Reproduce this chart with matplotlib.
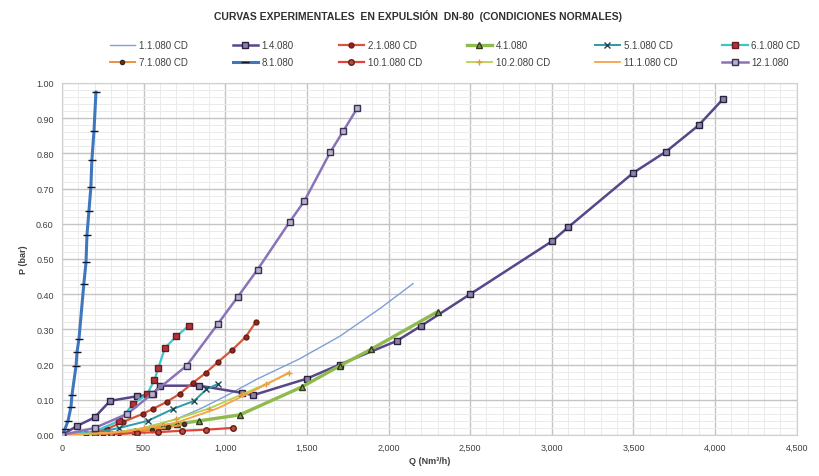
import matplotlib
matplotlib.use("Agg")
import matplotlib.pyplot as plt
from matplotlib.ticker import MultipleLocator, FuncFormatter

plt.rcParams["font.family"] = ["Liberation Sans Narrow", "Liberation Sans", "DejaVu Sans"]

# ── Data ────────────────────────────────────────────────────────────────────
q_111 = [0, 300, 500, 700, 850, 1000, 1200, 1450, 1700, 1950, 2150]
p_111 = [0, 0.005, 0.02, 0.045, 0.075, 0.11, 0.16, 0.215, 0.28, 0.36, 0.43]

q_140 = [0, 90, 200, 295, 460, 555, 600, 840, 1100, 1170, 1500, 1700, 2050,
         2200, 2500, 3000, 3100, 3500, 3700, 3900, 4050]
p_140 = [0, 0.025, 0.05, 0.097, 0.11, 0.115, 0.14, 0.14, 0.12, 0.113, 0.16,
         0.2, 0.267, 0.31, 0.40, 0.55, 0.59, 0.745, 0.805, 0.88, 0.955]

q_211 = [0, 150, 275, 373, 495, 556, 642, 721, 801, 880, 954, 1039, 1124, 1186]
p_211 = [0, 0.005, 0.017, 0.037, 0.06, 0.074, 0.094, 0.117, 0.148, 0.176,
         0.207, 0.24, 0.278, 0.32]

q_411 = [0, 300, 450, 617, 703, 837, 1088, 1467, 1700, 1895, 2300]
p_411 = [0, 0.0, 0.01, 0.026, 0.031, 0.04, 0.057, 0.136, 0.196, 0.244, 0.35]

q_511 = [0, 200, 350, 525, 680, 810, 885, 955]
p_511 = [0, 0.005, 0.02, 0.04, 0.074, 0.097, 0.13, 0.145]

q_611 = [0, 200, 350, 436, 520, 565, 590, 630, 700, 776]
p_611 = [0, 0.01, 0.04, 0.088, 0.115, 0.155, 0.19, 0.247, 0.28, 0.31]

q_711 = [0, 150, 250, 350, 450, 550, 650, 750]
p_711 = [0, 0.0, 0.003, 0.006, 0.01, 0.015, 0.022, 0.03]

q_811 = [0, 18, 37, 55, 61, 86, 92, 104, 134, 147, 153, 165, 177, 183, 196, 208]
p_811 = [0, 0.017, 0.04, 0.08, 0.113, 0.196, 0.235, 0.273, 0.43, 0.49, 0.568,
         0.636, 0.705, 0.78, 0.864, 0.974]

q_1011 = [0, 200, 300, 458, 587, 733, 880, 1045]
p_1011 = [0, 0.0, 0.002, 0.006, 0.008, 0.012, 0.015, 0.02]

q_1021 = [0, 300, 500, 700, 900, 1100, 1250, 1390]
p_1021 = [0, 0.005, 0.02, 0.045, 0.075, 0.115, 0.145, 0.175]

q_1111 = [0, 400, 700, 950, 1150, 1300, 1390]
p_1111 = [0, 0.01, 0.035, 0.075, 0.12, 0.155, 0.178]

q_1211 = [0, 200, 400, 550, 764, 954, 1076, 1198, 1394, 1485, 1644, 1724, 1809]
p_1211 = [0, 0.02, 0.06, 0.116, 0.197, 0.315, 0.392, 0.47, 0.605, 0.665,
          0.804, 0.864, 0.929]

# label, q, p, line colour, lw, marker, marker face, marker edge, size
series = [
    ("1.1.080 CD", q_111, p_111, "#7f9fd6", 1.0, None, None, None, 0),
    ("1.4.080", q_140, p_140, "#58468a", 1.8, "s", "#8c84a8", "#2a2040", 4.0),
    ("2.1.080 CD", q_211, p_211, "#d9553a", 1.6, "o", "#8e2a22", "#6a1a14", 3.5),
    ("4.1.080", q_411, p_411, "#8fba4e", 2.4, "^", "#7c9a50", "#2f3a20", 4.0),
    ("5.1.080 CD", q_511, p_511, "#2f9aa8", 1.4, "x", "#1f4a55", "#1f4a55", 4.0),
    ("6.1.080 CD", q_611, p_611, "#3cc6cc", 1.6, "s", "#b0343a", "#6a1a20", 4.5),
    ("7.1.080 CD", q_711, p_711, "#f0923c", 1.4, "o", "#5a3a20", "#3a2a18", 3.0),
    ("8.1.080", q_811, p_811, "#3f77bf", 2.2, "_", "#101828", "#101828", 6.0),
    ("10.1.080 CD", q_1011, p_1011, "#e0453a", 1.6, "o", "#b84a3e", "#6a1a14", 4.0),
    ("10.2.080 CD", q_1021, p_1021, "#b6d34a", 1.3, "+", "#e09a3c", "#e09a3c", 4.0),
    ("11.1.080 CD", q_1111, p_1111, "#f5a24a", 1.3, None, None, None, 0),
    ("12.1.080", q_1211, p_1211, "#8a74b8", 1.8, "s", "#b8b0cc", "#3a2f55", 4.0),
]

fig = plt.figure(figsize=(8.2, 4.77), dpi=100)
fig.patch.set_facecolor("white")
ax = fig.add_axes([0.0756, 0.086, 0.896, 0.738])

handles = []
for lab, q, p, col, lw, mk, mfc, mec, ms in series:
    h, = ax.plot(q, p, color=col, lw=lw, marker=mk, markersize=ms,
                 markerfacecolor=mfc, markeredgecolor=mec, markeredgewidth=1.0,
                 label=lab, zorder=3)
    handles.append(h)

ax.set_xlim(0, 4500)
ax.set_ylim(0, 1.0)
ax.xaxis.set_major_locator(MultipleLocator(500))
ax.xaxis.set_minor_locator(MultipleLocator(100))
ax.yaxis.set_major_locator(MultipleLocator(0.1))
ax.yaxis.set_minor_locator(MultipleLocator(0.02))
ax.xaxis.set_major_formatter(FuncFormatter(lambda v, _: f"{v:,.0f}"))
ax.yaxis.set_major_formatter(FuncFormatter(lambda v, _: f"{v:.2f}"))
ax.grid(which="major", color="#c4c4c4", lw=1.0, zorder=0)
ax.grid(which="minor", color="#ebebeb", lw=0.7, zorder=0)
ax.tick_params(which="both", length=0, labelsize=6.5, colors="#404040", pad=6)
for s in ax.spines.values():
    s.set_color("#d0d0d0")

ax.set_xlabel("Q (Nm³/h)", fontsize=6.5, fontweight="bold", color="#404040", labelpad=3)
ax.set_ylabel("P (bar)", fontsize=6.5, fontweight="bold", color="#404040", labelpad=6)

fig.text(0.51, 0.966, "CURVAS EXPERIMENTALES  EN EXPULSIÓN  DN-80  (CONDICIONES NORMALES)",
         ha="center", va="center", fontsize=7.5, fontweight="bold", color="#303030")

# legend rows filled left-to-right as in the reference
order = []
for c in range(6):
    order += [handles[c], handles[c + 6]]
leg = fig.legend(order, [h.get_label() for h in order], ncol=6,
                 loc="center", bbox_to_anchor=(0.555, 0.885), frameon=False,
                 fontsize=7, handlelength=2.6, columnspacing=4.6,
                 labelspacing=0.7, handletextpad=0.4)
for t in leg.get_texts():
    t.set_color("#404040")

fig.savefig("out.png", dpi=100, facecolor="white")
